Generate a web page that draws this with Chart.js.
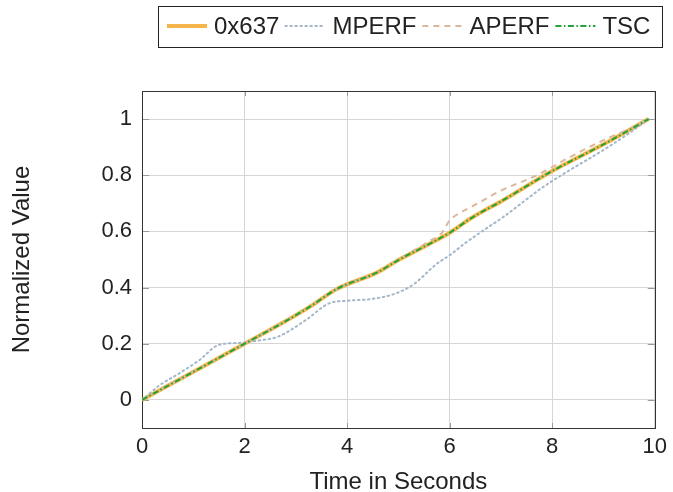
<!DOCTYPE html>
<html>
<head>
<meta charset="utf-8">
<script src="https://cdn.jsdelivr.net/npm/chart.js@4.4.1/dist/chart.umd.min.js"></script>
<style>
  html, body { margin: 0; padding: 0; background: #fff; }
</style>
</head>
<body>
<canvas id="chart" width="673" height="492"></canvas>
<script>
// series (time in s -> normalized value)
const time0x637 = [0, 0.7, 1.3, 2.0, 2.7, 3.3, 3.8, 4.6, 5.0, 5.6, 6.0, 6.4, 7.05, 8.0, 9.0, 9.88];
const value0x637 = [0, 0.07, 0.13, 0.2, 0.27, 0.335, 0.395, 0.455, 0.498, 0.555, 0.595, 0.645, 0.712, 0.815, 0.91, 1.0];

const timeMPERF = [0, 0.35, 0.73, 1.12, 1.5, 1.9, 2.3, 2.65, 3.2, 3.65, 4.0, 4.5, 4.93, 5.3, 5.75, 6.0, 6.3, 6.67, 7.05, 7.83, 8.34, 9.0, 9.5, 9.88];
const valueMPERF = [0, 0.053, 0.095, 0.142, 0.196, 0.203, 0.212, 0.225, 0.285, 0.344, 0.353, 0.36, 0.378, 0.412, 0.485, 0.515, 0.558, 0.605, 0.652, 0.759, 0.818, 0.89, 0.95, 1.0];

const timeAPERF = [0, 0.7, 1.3, 2.0, 2.7, 3.3, 3.8, 4.6, 5.0, 5.6, 5.85, 6.0, 6.1, 6.5, 7.0, 7.7, 8.3, 9.0, 9.5, 9.88];
const valueAPERF = [0, 0.07, 0.13, 0.2, 0.27, 0.335, 0.395, 0.455, 0.5, 0.565, 0.595, 0.64, 0.655, 0.695, 0.745, 0.8, 0.86, 0.925, 0.965, 1.0];

const timeTSC = [0, 0.7, 1.3, 2.0, 2.7, 3.3, 3.8, 4.6, 5.0, 5.6, 6.0, 6.4, 7.05, 8.0, 9.0, 9.88];
const valueTSC = [0, 0.07, 0.13, 0.2, 0.27, 0.335, 0.395, 0.455, 0.498, 0.555, 0.595, 0.645, 0.712, 0.815, 0.91, 1.0];

const xTicks = [0, 2, 4, 6, 8, 10];
const yTicks = [0, 0.2, 0.4, 0.6, 0.8, 1];

const FONT = '"Liberation Sans", Arial, sans-serif';
const TEXT = '#222';

function points(xs, ys) {
    return xs.map((x, i) => ({ x: x, y: ys[i] }));
}

// full frame round the plot plus small inward ticks, like pgfplots
const framePlugin = {
    id: 'frame',
    beforeDatasetsDraw(chart) {
        const { ctx, chartArea: a, scales } = chart;
        ctx.save();
        ctx.strokeStyle = '#999';
        ctx.lineWidth = 1;
        ctx.beginPath();
        xTicks.forEach(v => {
            const px = Math.round(scales.x.getPixelForValue(v)) + 0.5;
            ctx.moveTo(px, a.bottom); ctx.lineTo(px, a.bottom - 5);
            ctx.moveTo(px, a.top); ctx.lineTo(px, a.top + 5);
        });
        yTicks.forEach(v => {
            const py = Math.round(scales.y.getPixelForValue(v)) + 0.5;
            ctx.moveTo(a.left, py); ctx.lineTo(a.left + 7, py);
            ctx.moveTo(a.right, py); ctx.lineTo(a.right - 7, py);
        });
        ctx.stroke();
        ctx.strokeStyle = '#333';
        ctx.strokeRect(Math.round(a.left) + 0.5, Math.round(a.top) + 0.5,
            Math.round(a.right - a.left), Math.round(a.bottom - a.top));
        ctx.restore();
    }
};

// boxed legend drawn from the datasets' own styles
const legendPlugin = {
    id: 'boxLegend',
    afterDraw(chart) {
        const ctx = chart.ctx;
        const startX = 167, midY = 26, sample = 40;
        ctx.save();
        ctx.font = '24px ' + FONT;
        ctx.textBaseline = 'middle';
        let x = startX;
        chart.data.datasets.forEach((ds, i) => {
            ctx.save();
            ctx.strokeStyle = ds.borderColor;
            ctx.lineWidth = ds.borderWidth;
            ctx.lineCap = ds.borderCapStyle || 'butt';
            ctx.setLineDash(ds.borderDash || []);
            ctx.beginPath();
            ctx.moveTo(x, midY);
            ctx.lineTo(x + sample, midY);
            ctx.stroke();
            ctx.restore();
            x += sample + 7;
            ctx.fillStyle = TEXT;
            ctx.fillText(ds.label, x, midY + 1);
            x += ctx.measureText(ds.label).width;
            if (i < chart.data.datasets.length - 1) x += 6;
        });
        ctx.strokeStyle = '#222';
        ctx.lineWidth = 1;
        ctx.strokeRect(158.5, 6.5, Math.round(x + 12 - 158), 41);
        ctx.restore();
    }
};

new Chart(document.getElementById('chart'), {
    type: 'line',
    data: {
        datasets: [
            {
                label: '0x637',
                data: points(time0x637, value0x637),
                borderColor: '#f5b54b',
                backgroundColor: '#f5b54b',
                borderWidth: 4,
                cubicInterpolationMode: 'monotone',
                pointRadius: 0,
                order: 4
            },
            {
                label: 'MPERF',
                data: points(timeMPERF, valueMPERF),
                borderColor: '#a3b7c9',
                backgroundColor: '#a3b7c9',
                borderWidth: 2,
                borderDash: [1.5, 3.5],
                borderCapStyle: 'round',
                cubicInterpolationMode: 'monotone',
                pointRadius: 0,
                order: 3
            },
            {
                label: 'APERF',
                data: points(timeAPERF, valueAPERF),
                borderColor: '#dbb79c',
                backgroundColor: '#dbb79c',
                borderWidth: 2,
                borderDash: [6, 5],
                cubicInterpolationMode: 'monotone',
                pointRadius: 0,
                order: 2
            },
            {
                label: 'TSC',
                data: points(timeTSC, valueTSC),
                borderColor: '#22a33a',
                backgroundColor: '#22a33a',
                borderWidth: 2,
                borderDash: [6, 2.5, 1.5, 2.5],
                cubicInterpolationMode: 'monotone',
                pointRadius: 0,
                order: 1
            }
        ]
    },
    options: {
        responsive: false,
        animation: false,
        devicePixelRatio: 1,
        layout: { padding: { left: 0, right: 14, top: 91, bottom: 0 } },
        plugins: {
            tooltip: { enabled: false },
            legend: { display: false }
        },
        scales: {
            x: {
                type: 'linear',
                min: 0,
                max: 10,
                afterBuildTicks: (s) => { s.ticks = xTicks.map(v => ({ value: v })); },
                afterFit: (s) => { s.height = 64; },
                grid: { color: '#d6d6d6', lineWidth: 1, drawTicks: false },
                border: { display: false },
                ticks: {
                    color: TEXT,
                    padding: 6,
                    maxRotation: 0,
                    font: { family: FONT, size: 22 },
                    callback: (v) => String(v)
                },
                title: {
                    display: true,
                    text: 'Time in Seconds',
                    color: TEXT,
                    font: { family: FONT, size: 24, lineHeight: 1 },
                    padding: { top: 0, bottom: -2 }
                }
            },
            y: {
                type: 'linear',
                min: -0.1,
                max: 1.1,
                afterBuildTicks: (s) => { s.ticks = yTicks.map(v => ({ value: v })); },
                afterFit: (s) => { s.width = 142; },
                grid: { color: '#d6d6d6', lineWidth: 1, drawTicks: false },
                border: { display: false },
                ticks: {
                    color: TEXT,
                    padding: 10,
                    font: { family: FONT, size: 22 },
                    callback: (v) => String(Math.round(v * 10) / 10)
                },
                title: {
                    display: true,
                    text: 'Normalized Value',
                    color: TEXT,
                    font: { family: FONT, size: 24, lineHeight: 1 },
                    padding: { top: 10, bottom: 0 }
                }
            }
        }
    },
    plugins: [framePlugin, legendPlugin]
});
</script>
</body>
</html>
